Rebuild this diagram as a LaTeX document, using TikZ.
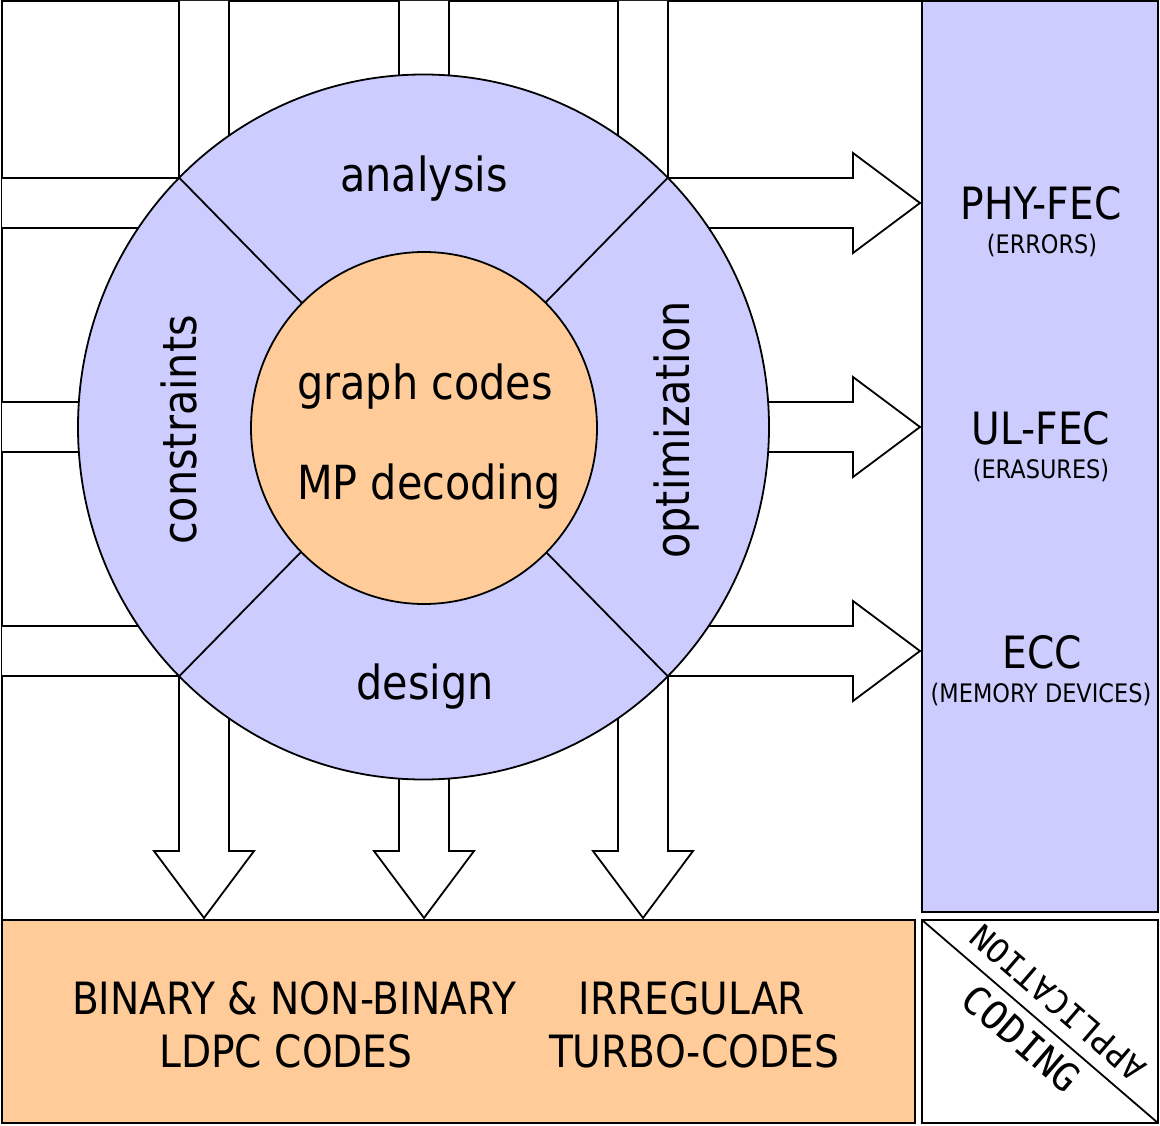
\documentclass[tikz,border=0pt]{standalone}
\usepackage{fontspec}
\setmainfont{DejaVu Sans}[FakeStretch=0.88]
\newfontfamily\cornerfont{DejaVu Sans Mono}
\definecolor{lblue}{HTML}{CCCCFF}
\definecolor{lorange}{HTML}{FFCC99}
\begin{document}
\begin{tikzpicture}[x=1pt,y=-1pt,line width=1.8pt,line join=miter,
  lbl/.style={inner sep=0pt,anchor=base,font=\fontsize{47}{50}\selectfont},
  capt/.style={inner sep=0pt,anchor=base,font=\fontsize{44.5}{48}\selectfont},
  subt/.style={inner sep=0pt,anchor=base,font=\fontsize{25.5}{28}\selectfont},
  blockarrow/.style={draw=black,fill=white},
  panel/.style={draw=black}]
% bounding box / background
\fill[white] (0,0) rectangle (1160,1126);
\useasboundingbox (0,0) rectangle (1160,1126);
% frame
\draw (2,919) -- (2,1) -- (922,1);
% right arrows
\foreach \yc/\nm in {203/ra1,427/ra2,651/ra3}{
  \draw[blockarrow] (2,\yc-25) -- (853,\yc-25) -- (853,\yc-50) -- (920,\yc)
     -- (853,\yc+50) -- (853,\yc+25) -- (2,\yc+25);
}
% down arrows
\foreach \xc/\nm in {204/da1,424/da2,643/da3}{
  \draw[blockarrow] (\xc-25,1) -- (\xc-25,851) -- (\xc-50,851) -- (\xc,918)
     -- (\xc+50,851) -- (\xc+25,851) -- (\xc+25,1);
}
% outer ring
\coordinate (C) at (423.5,427);
\draw[fill=lblue] (C) ellipse [x radius=345.5pt,y radius=352.5pt];
\coordinate (q1) at (179.2,177.7);
\coordinate (q2) at (667.8,177.7);
\coordinate (q3) at (667.8,676.3);
\coordinate (q4) at (179.2,676.3);
\draw (q1) -- (q3);
\draw (q2) -- (q4);
% inner disc
\coordinate (Ci) at (424,428);
\draw[fill=lorange] (Ci) ellipse [x radius=173pt,y radius=176pt];
% ring texts
\node[lbl] (analysis) at (424,192) {analysis};
\node[lbl] (design) at (425,699) {design};
\node[lbl,rotate=90] (constraints) at (196,430) {constraints};
\node[lbl,rotate=90] (optim) at (689,430) {optimization};
\node[lbl] (graph) at (425,399) {graph codes};
\node[lbl] (mp) at (429,499) {MP decoding};
% right panel
\draw[panel,fill=lblue] (922,1) rectangle (1158,912);
\node[capt] (phy) at (1041,220) {PHY-FEC};
\node[subt] (phys) at (1042,254) {(ERRORS)};
\node[capt] (ul) at (1041,444) {UL-FEC};
\node[subt] (uls) at (1041,478) {(ERASURES)};
\node[capt] (ecc) at (1042,668) {ECC};
\node[subt] (eccs) at (1041,702) {(MEMORY DEVICES)};
% bottom panel
\draw[panel,fill=lorange] (2,920) rectangle (915,1123);
\node[capt] (bin) at (294,1014) {BINARY \& NON-BINARY};
\node[capt] (ldpc) at (286,1067) {LDPC CODES};
\node[capt] (irr) at (692,1014) {IRREGULAR};
\node[capt] (turbo) at (694,1067) {TURBO-CODES};
% corner box
\draw[panel,fill=white] (922,920) rectangle (1158,1123);
\coordinate (d1) at (922,920);
\coordinate (d2) at (1158,1123);
\draw (d1) -- (d2);
\node[inner sep=0pt,anchor=mid,rotate=-40.7,font=\cornerfont\fontsize{39}{44}\selectfont] (coding) at (1014,1047) {CODING};
\node[inner sep=0pt,anchor=mid,rotate=139.3,font=\cornerfont\fontsize{33}{40}\selectfont] (appl) at (1064,996) {APPLICATION};
\end{tikzpicture}
\end{document}
